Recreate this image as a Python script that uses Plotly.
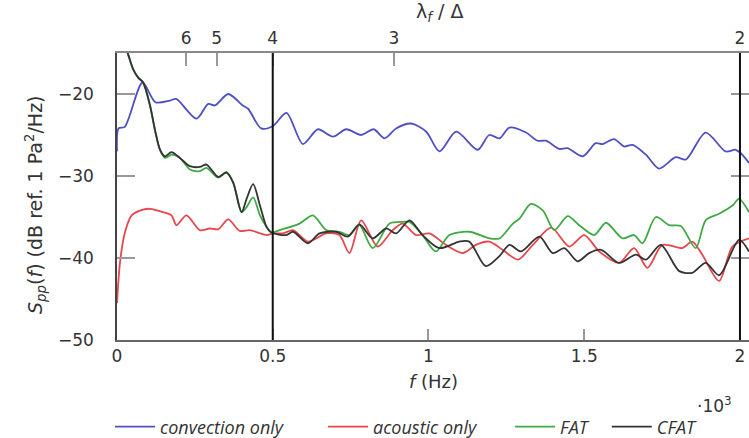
import plotly.graph_objects as go

# ---------------- data ----------------
f_conv = [0, 5, 25, 82, 123, 170, 190, 255, 293, 314, 357, 404, 421, 463, 501, 544, 597, 645, 693,
          736, 784, 824, 859, 896, 944, 993, 1035, 1089, 1158, 1195, 1228, 1260, 1313, 1350, 1377,
          1420, 1446, 1495, 1537, 1559, 1596, 1628, 1655, 1698, 1740, 1794, 1826, 1890, 1954, 1986,
          2002, 2029]
s_conv = [-27.0, -24.2, -24.0, -18.6, -21.0, -20.8, -20.6, -23.0, -21.2, -21.4, -20.0, -21.4, -21.8,
          -24.2, -23.9, -22.3, -26.1, -24.3, -25.2, -24.3, -25.0, -24.3, -25.4, -24.2, -23.6, -24.6,
          -27.0, -24.6, -26.8, -25.0, -25.4, -24.1, -24.7, -25.7, -25.7, -26.7, -26.6, -27.6, -26.0,
          -26.1, -25.5, -26.4, -26.2, -27.4, -29.1, -27.7, -28.0, -24.7, -27.0, -26.8, -27.2, -28.4]

f_acou = [0, 10, 26, 47, 84, 106, 148, 175, 191, 223, 266, 298, 325, 357, 394, 426, 480, 501, 533,
          565, 613, 672, 714, 746, 784, 837, 885, 917, 960, 1003, 1056, 1110, 1152, 1195, 1238, 1287,
          1335, 1394, 1452, 1500, 1548, 1612, 1660, 1703, 1751, 1815, 1847, 1879, 1933, 1976, 2029]
s_acou = [-45.5, -40.4, -36.8, -34.8, -34.1, -34.0, -34.4, -34.8, -36.0, -34.8, -36.6, -36.4, -36.5,
          -35.3, -36.7, -36.6, -37.2, -37.0, -37.0, -36.6, -38.0, -37.0, -37.2, -39.4, -35.4, -38.6,
          -36.6, -35.8, -37.2, -37.0, -38.4, -39.4, -38.4, -38.0, -39.0, -40.2, -38.4, -36.3, -38.6,
          -37.2, -39.2, -40.6, -38.8, -41.2, -38.4, -38.8, -38.0, -39.6, -42.8, -38.6, -37.6]

f_fat = [0, 36, 52, 68, 84, 106, 122, 138, 154, 175, 202, 234, 266, 287, 325, 351, 373, 400, 416,
         437, 459, 480, 496, 522, 586, 629, 672, 714, 746, 778, 821, 875, 917, 939, 981, 1024, 1067,
         1131, 1195, 1228, 1271, 1292, 1329, 1367, 1404, 1447, 1484, 1532, 1570, 1623, 1660, 1687,
         1730, 1773, 1810, 1858, 1890, 1933, 1976, 1997, 2029]
s_fat = [-11.0, -15.2, -17.0, -18.0, -18.6, -21.4, -24.4, -26.8, -27.8, -27.4, -27.8, -29.2, -29.4,
         -29.0, -30.2, -29.5, -30.8, -34.4, -33.8, -32.6, -34.8, -36.2, -36.9, -36.6, -35.8, -34.8,
         -36.6, -36.8, -37.2, -36.0, -38.8, -35.8, -35.6, -35.6, -37.2, -39.2, -37.2, -36.8, -37.6,
         -37.6, -35.8, -35.2, -33.4, -34.2, -36.6, -34.9, -36.0, -37.2, -35.7, -37.6, -37.2, -38.2,
         -35.0, -36.0, -36.1, -38.8, -35.4, -34.6, -33.6, -32.8, -34.4]

f_cfat = [0, 36, 52, 68, 84, 106, 122, 138, 154, 175, 202, 234, 266, 287, 325, 351, 373, 400, 416,
          437, 459, 480, 496, 543, 565, 613, 650, 704, 741, 778, 821, 864, 896, 939, 981, 1035, 1099,
          1131, 1184, 1227, 1260, 1297, 1356, 1399, 1436, 1479, 1516, 1554, 1612, 1666, 1698, 1746,
          1805, 1847, 1890, 1933, 1997, 2029]
s_cfat = [-11.0, -15.2, -17.0, -18.0, -18.6, -21.4, -24.4, -26.8, -27.6, -27.1, -27.8, -28.8, -28.9,
          -28.6, -30.1, -29.6, -30.8, -34.4, -32.8, -31.0, -33.6, -36.2, -36.9, -37.2, -36.8, -38.2,
          -37.0, -36.8, -37.4, -35.9, -37.6, -36.4, -37.0, -35.4, -37.2, -38.8, -38.0, -38.0, -41.0,
          -39.8, -38.4, -39.2, -37.4, -39.4, -38.8, -40.4, -39.4, -39.0, -40.6, -39.6, -40.2, -38.4,
          -41.6, -41.8, -40.6, -42.1, -37.8, -39.2]

series_names = ["convection only", "acoustic only", "FAT", "CFAT"]
series_colors = ["#4f4fc4", "#e8464b", "#3faa44", "#333333"]

x_ticks = [0, 500, 1000, 1500, 2000]
x_tick_text = ["0", "0.5", "1", "1.5", "2"]
y_ticks = [-50, -40, -30, -20]
lambda_ticks = [6, 5, 4, 3, 2]
lambda_pos = [8000.0 / (l * l) for l in lambda_ticks]
v_lines = [500, 2000]

X_MAX = 2029
Y_RANGE = [-50, -15]

# legend anchor positions (paper x) for the four entries
legend_x = [-0.011, 0.326, 0.622, 0.775]
legend_ids = ["legend", "legend2", "legend3", "legend4"]

# ---------------- figure ----------------
fig = go.Figure()
for f, s, name, col, lid in zip([f_conv, f_acou, f_fat, f_cfat], [s_conv, s_acou, s_fat, s_cfat],
                                series_names, series_colors, legend_ids):
    fig.add_trace(go.Scatter(x=f, y=s, mode="lines", name=name, legend=lid,
                             line=dict(color=col, width=1.8, shape="spline", smoothing=0.8)))

# invisible trace carrying the top and right axes
fig.add_trace(go.Scatter(x=[0, X_MAX], y=Y_RANGE, xaxis="x2", yaxis="y2", mode="lines",
                         line=dict(width=0), opacity=0, showlegend=False, hoverinfo="skip"))

tickfont = dict(family="DejaVu Sans", size=17, color="#333333")
legfont = dict(family="Open Sans", size=18, color="#333333", style="italic")

layout_legends = {}
for lid, lx in zip(legend_ids, legend_x):
    layout_legends[lid] = dict(orientation="h", x=lx, y=-0.303, xanchor="left", yanchor="middle",
                               font=legfont, itemwidth=40, bgcolor="rgba(0,0,0,0)",
                               borderwidth=0)

fig.update_layout(
    width=749, height=438,
    margin=dict(l=117, r=0, t=53, b=98, autoexpand=False),
    paper_bgcolor="white", plot_bgcolor="white",
    showlegend=True,
    xaxis=dict(range=[0, X_MAX], tickvals=x_ticks, ticktext=x_tick_text,
               ticks="inside", ticklen=11, tickcolor="#999999", tickwidth=1.5,
               showline=True, linecolor="#666666", linewidth=1.5,
               showgrid=False, zeroline=False, tickfont=tickfont),
    xaxis2=dict(range=[0, X_MAX], overlaying="x", side="top", anchor="y2", tickvals=lambda_pos,
                ticktext=[str(l) for l in lambda_ticks],
                ticks="inside", ticklen=13, tickcolor="#999999", tickwidth=1.5,
                showline=True, linecolor="#888888", linewidth=1.5,
                showgrid=False, zeroline=False, tickfont=tickfont),
    yaxis=dict(range=Y_RANGE, tickvals=y_ticks, ticks="inside", ticklen=18,
               tickcolor="#999999", tickwidth=1.5,
               showline=True, linecolor="#444444", linewidth=1.5,
               showgrid=False, zeroline=False, tickfont=tickfont, ticklabelstandoff=18),
    yaxis2=dict(range=Y_RANGE, overlaying="y", side="right", anchor="x2", tickvals=y_ticks,
                ticks="inside", ticklen=18, tickcolor="#999999", tickwidth=1.5,
                showticklabels=False, showline=False, showgrid=False, zeroline=False),
    **layout_legends,
)

for v in v_lines:
    fig.add_shape(type="line", x0=v, x1=v, y0=0, y1=1, xref="x", yref="paper",
                  line=dict(color="#111111", width=2))

fig.add_annotation(text="<i>S</i><sub><i>pp</i></sub>(<i>f</i>) (dB ref. 1 Pa<sup>2</sup>/Hz)",
                   xref="paper", yref="paper", x=-0.13, y=0.47, textangle=-90,
                   showarrow=False, xanchor="center", yanchor="middle",
                   font=dict(family="DejaVu Sans", size=19, color="#333333"))
fig.add_annotation(text="<i>f</i> (Hz)", xref="paper", yref="paper", x=0.5, y=-0.145,
                   showarrow=False, xanchor="center", yanchor="middle",
                   font=dict(family="DejaVu Sans", size=18, color="#333333"))
fig.add_annotation(text="·10<sup>3</sup>", xref="paper", yref="paper", x=0.945, y=-0.228,
                   showarrow=False, xanchor="center", yanchor="middle",
                   font=dict(family="DejaVu Sans", size=17, color="#333333"))
fig.add_annotation(text="λ<sub><i>f</i></sub> / Δ", xref="paper", yref="paper", x=0.51, y=1.14,
                   showarrow=False, xanchor="center", yanchor="middle",
                   font=dict(family="DejaVu Sans", size=19, color="#333333"))

fig.write_html("out.html")
